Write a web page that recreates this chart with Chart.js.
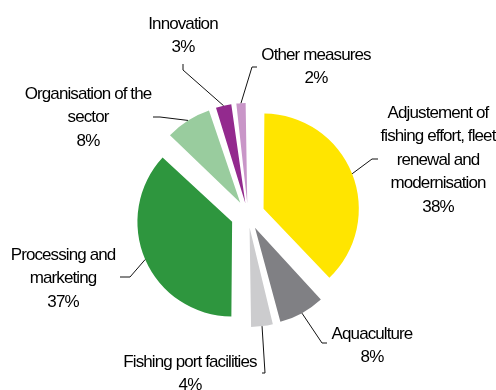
<!DOCTYPE html>
<html lang="en">
<head>
    <meta charset="UTF-8">
    <title>EFF measures</title>
    <script src="https://cdn.jsdelivr.net/npm/chart.js"></script>
    <style>
        body {
            margin: 0;
            padding: 0;
            background: white;
        }
        .wrap {
            width: 496px;
            height: 390px;
            position: relative;
        }
    </style>
</head>
<body>
    <div class="wrap"><canvas id="pie"></canvas></div>

    <script>
        // data
        const categories = [
            "Adjustement of fishing effort, fleet renewal and modernisation",
            "Aquaculture",
            "Fishing port facilities",
            "Processing and marketing",
            "Organisation of the sector",
            "Innovation",
            "Other measures"
        ];
        const shares = [38, 8, 4, 37, 8, 3, 2];
        const labelLines = [
            ["Adjustement of", "fishing effort, fleet", "renewal and", "modernisation"],
            ["Aquaculture"],
            ["Fishing port facilities"],
            ["Processing and", "marketing"],
            ["Organisation of the", "sector"],
            ["Innovation"],
            ["Other measures"]
        ];

        const colors = ["#FFE500", "#808084", "#CCCCCE", "#2E963E", "#99CC9E", "#932A8E", "#C996C8"];

        // where each label sits: text centre x, first line y, leader bends
        const labelLayout = [
            { x: 438, y: 113, bend: [[378, 159], [372, 159]] },
            { x: 372, y: 334, bend: [[327, 343], [322, 343]] },
            { x: 190, y: 362, bend: [[262, 373], [265, 373]] },
            { x: 63, y: 255, bend: [[120, 277], [130, 277]] },
            { x: 88, y: 94, bend: [[153, 117], [160, 117]] },
            { x: 183, y: 24, bend: [[183, 64], [183, 70]] },
            { x: 316, y: 55, bend: [[257, 67], [252, 67]] }
        ];

        const explode = 22; // px every slice is pulled out
        const total = shares.reduce((a, b) => a + b, 0);

        // chart.js moves an arc by offset/4*(2 - sin(circ)), so undo that
        function sliceOffset(ctx) {
            const circ = Math.PI * 2 * ctx.parsed / total;
            return 4 * explode / (2 - Math.sin(Math.min(Math.PI, circ)));
        }

        const labelPlugin = {
            id: "pieLabels",
            afterDraw(chart) {
                const ctx = chart.ctx;
                const meta = chart.getDatasetMeta(0);
                ctx.save();
                ctx.font = "17px 'Liberation Sans', Arial, sans-serif";
                ctx.letterSpacing = "-0.9px";
                ctx.fillStyle = "#000";
                ctx.textAlign = "center";
                ctx.textBaseline = "middle";
                ctx.strokeStyle = "#111";
                ctx.lineWidth = 1;
                meta.data.forEach((arc, i) => {
                    const p = arc.getProps(["x", "y", "startAngle", "endAngle", "outerRadius", "circumference"], true);
                    const mid = (p.startAngle + p.endAngle) / 2;
                    const off = arc.options.offset / 4 * (2 - Math.sin(Math.min(Math.PI, p.circumference)));
                    const r = p.outerRadius + off;
                    const ex = p.x + Math.cos(mid) * r;
                    const ey = p.y + Math.sin(mid) * r;
                    const lay = labelLayout[i];

                    ctx.beginPath();
                    ctx.moveTo(lay.bend[0][0], lay.bend[0][1]);
                    for (let k = 1; k < lay.bend.length; k++) {
                        ctx.lineTo(lay.bend[k][0], lay.bend[k][1]);
                    }
                    ctx.lineTo(ex, ey);
                    ctx.stroke();

                    const lines = labelLines[i].concat([shares[i] + "%"]);
                    lines.forEach((t, j) => {
                        ctx.fillText(t, lay.x, lay.y + j * 23.5);
                    });
                });
                ctx.restore();
            }
        };

        new Chart(document.getElementById("pie"), {
            type: "pie",
            data: {
                labels: categories,
                datasets: [{
                    data: shares,
                    backgroundColor: colors,
                    borderWidth: 0,
                    offset: sliceOffset
                }]
            },
            options: {
                responsive: true,
                maintainAspectRatio: false,
                animation: false,
                radius: 90,
                layout: { padding: { top: 40, bottom: 0, left: 0, right: 0 } },
                plugins: {
                    legend: { display: false },
                    tooltip: { enabled: false }
                }
            },
            plugins: [labelPlugin]
        });
    </script>
</body>
</html>
